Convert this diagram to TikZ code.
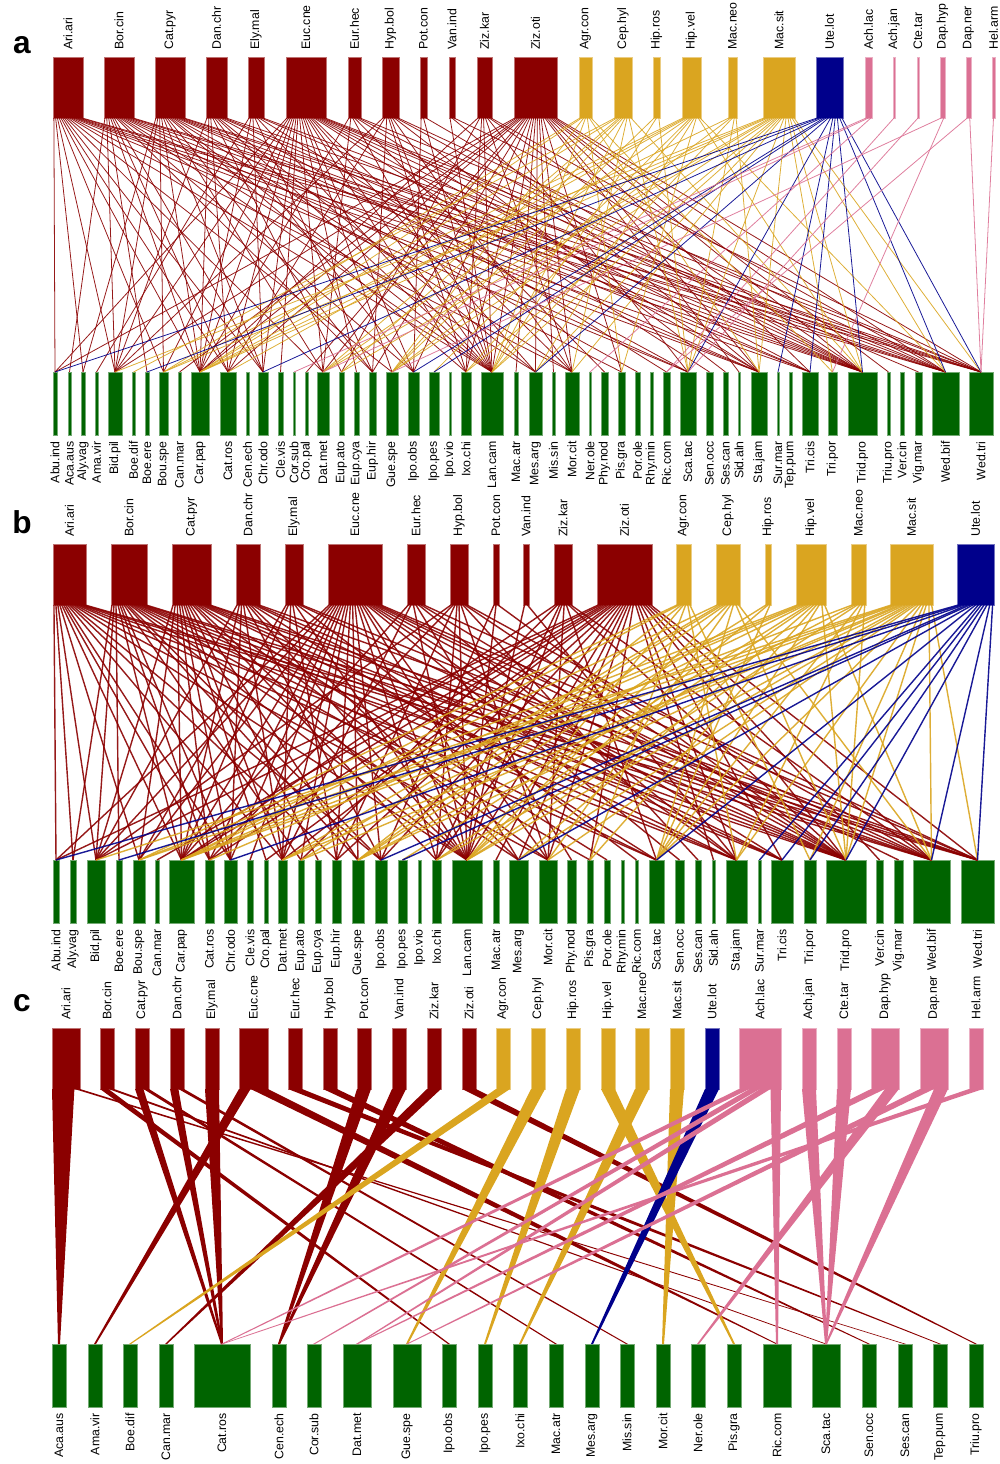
\documentclass[tikz,border=0pt]{standalone}
\usepackage{fontspec}
\setmainfont{Liberation Sans}
\usetikzlibrary{calc}
\definecolor{plantgreen}{RGB}{0,100,0}
\definecolor{bugred}{RGB}{139,0,0}
\definecolor{buggold}{RGB}{218,165,32}
\definecolor{bugblue}{RGB}{0,0,139}
\definecolor{bugpink}{RGB}{219,112,147}

% thin links from one upper bar, spread along its lower side
\newcommand{\fanout}[5]{%
  \foreach \b [count=\cnt] in {#4} {\xdef\nedges{\cnt}}
  \foreach \b [count=\k] in {#4} {
    \pgfmathsetmacro{\frc}{(\k-0.5)/\nedges}
    \draw[#3, line width=#5, draw opacity=0.9] ($(#1t#2.south west)!\frc!(#1t#2.south east)$) -- (#1b\b.north);
  }}
% tapered band for panel c
\newcommand{\flowband}[5]{%
  \fill[#5] ($(ct#1.south west)!#2!(ct#1.south east)$) -- ($(ct#1.south west)!#3!(ct#1.south east)$)
    -- ($(cb#4.north)+(1,0)$) -- ($(cb#4.north)+(-1,0)$) -- cycle;}

\begin{document}
\begin{tikzpicture}[x=0.02cm, y=-0.02cm,
  topbar/.style={inner sep=0pt, outer sep=0pt, anchor=north west, minimum height=1.22cm, fill=#1, draw=#1!55!white, line width=0.3pt},
  lowbar/.style={inner sep=0pt, outer sep=0pt, anchor=north west, minimum height=1.26cm, fill=plantgreen, draw=plantgreen!55!white, line width=0.3pt},
  toplab/.style={rotate=90, anchor=west, inner sep=0pt, font=\fontsize{7}{8}\selectfont},
  lowlab/.style={rotate=90, anchor=east, inner sep=0pt, font=\fontsize{7}{8}\selectfont},
  panel/.style={font=\fontsize{18}{18}\selectfont\bfseries}
]
\useasboundingbox (0,0) rectangle (1000,1464);

%% panel a
\node[panel] (labela) at (22,45) {a};
\foreach \l/\r/\lab/\col [count=\i] in {53/83/Ari.ari/bugred, 104/134/Bor.cin/bugred, 155/185/Cat.pyr/bugred, 206/227/Dan.chr/bugred, 248/264/Ely.mal/bugred, 286/326/Euc.cne/bugred, 348/361/Eur.hec/bugred, 382/399/Hyp.bol/bugred, 420/427/Pot.con/bugred, 449/455/Van.ind/bugred, 477/492/Ziz.kar/bugred, 514/557/Ziz.oti/bugred, 579/592/Agr.con/buggold, 614/632/Cep.hyl/buggold, 653/660/Hip.ros/buggold, 682/701/Hip.vel/buggold, 728/737/Mac.neo/buggold, 763/795/Mac.sit/buggold, 816/843/Ute.lot/bugblue, 865/872/Ach.lac/bugpink, 893/895/Ach.jan/bugpink, 917/919/Cte.tar/bugpink, 940/945/Dap.hyp/bugpink, 966/971/Dap.ner/bugpink, 992/995/Hel.arm/bugpink} {
  \node[topbar=\col, minimum width={(\r-\l)*0.02cm}] (at\i) at (\l,57) {};
  \node[toplab] (atl\i) at ($(at\i.north)+(0,-7)$) {\lab};
}
\foreach \l/\r/\lab [count=\i] in {53/57/Abu.ind, 68/71/Aca.aus, 81/85/Aly.vag, 95/98/Ama.vir, 108/122/Bid.pil, 132/135/Boe.dif, 145/149/Boe.ere, 159/168/Bou.spe, 178/181/Can.mar, 191/209/Car.pap, 220/236/Cat.ros, 246/249/Cen.ech, 258/268/Chr.odo, 278/283/Cle.vis, 293/295/Cor.sub, 305/308/Cro.pal, 317/329/Dat.met, 339/344/Eup.ato, 354/359/Eup.cya, 369/376/Eup.hir, 386/398/Gue.spe, 408/419/Ipo.obs, 429/439/Ipo.pes, 449/451/Ipo.vio, 461/471/Ixo.chi, 481/503/Lan.cam, 514/518/Mac.atr, 529/542/Mes.arg, 552/555/Mis.sin, 565/579/Mor.cit, 589/591/Ner.ole, 601/608/Phy.nod, 618/625/Pis.gra, 635/640/Por.ole, 650/653/Rhy.min, 663/670/Ric.com, 680/696/Sca.tac, 706/713/Sen.occ, 723/728/Ses.can, 738/740/Sid.aln, 751/767/Sta.jam, 777/779/Sur.mar, 789/792/Tep.pum, 802/818/Tri.cis, 828/837/Tri.por, 848/877/Trid.pro, 887/890/Triu.pro, 900/904/Ver.cin, 915/922/Vig.mar, 932/959/Wed.bif, 969/993/Wed.tri} {
  \node[lowbar, minimum width={(\r-\l)*0.02cm}] (ab\i) at (\l,372) {};
  \node[lowlab] (abl\i) at ($(ab\i.south)+(0,6)$) {\lab};
}
\fanout{a}{1}{bugred}{1,3,5,8,10,11,13,17,21,26,30,37,41,44,46,50,51}{0.45pt}
\fanout{a}{2}{bugred}{2,5,7,10,11,13,20,22,26,28,33,37,41,46,50,51}{0.45pt}
\fanout{a}{3}{bugred}{3,5,8,10,13,17,20,25,26,30,34,41,44,46,50,51}{0.45pt}
\fanout{a}{4}{bugred}{5,10,11,18,22,26,28,37,44,46,51}{0.45pt}
\fanout{a}{5}{bugred}{4,10,13,20,26,36,46,50}{0.45pt}
\fanout{a}{6}{bugred}{1,5,8,10,11,13,14,17,19,21,22,25,26,28,30,38,41,44,46,49,50,51}{0.45pt}
\fanout{a}{7}{bugred}{10,17,26,32,41,46,51}{0.45pt}
\fanout{a}{8}{bugred}{5,11,20,25,26,30,39,46,50}{0.45pt}
\fanout{a}{9}{bugred}{22,26,46}{0.45pt}
\fanout{a}{10}{bugred}{26,41,51}{0.45pt}
\fanout{a}{11}{bugred}{10,18,25,26,30,37,46,50}{0.45pt}
\fanout{a}{12}{bugred}{1,5,9,10,11,16,17,20,22,25,26,27,28,29,30,33,40,41,44,46,47,50,51}{0.45pt}
\fanout{a}{13}{buggold}{8,10,21,26,33,41,45}{0.45pt}
\fanout{a}{14}{buggold}{6,10,17,18,21,26,30,37,46}{0.45pt}
\fanout{a}{15}{buggold}{21,26,37}{0.45pt}
\fanout{a}{16}{buggold}{8,10,11,17,23,25,28,33,46,50}{0.45pt}
\fanout{a}{17}{buggold}{10,21,26,37,41}{0.45pt}
\fanout{a}{18}{buggold}{5,8,10,17,18,21,25,26,28,30,37,41,45,46,50,51}{0.45pt}
\fanout{a}{19}{bugblue}{1,7,13,22,23,28,37,42,44,46,50,51}{0.45pt}
\fanout{a}{20}{bugpink}{15,17,31}{0.45pt}
\fanout{a}{21}{bugpink}{36}{0.45pt}
\fanout{a}{22}{bugpink}{37}{0.45pt}
\fanout{a}{23}{bugpink}{21,45}{0.45pt}
\fanout{a}{24}{bugpink}{36,51}{0.45pt}
\fanout{a}{25}{bugpink}{51}{0.45pt}

%% panel b
\node[panel] (labelb) at (22,522) {b};
\foreach \l/\r/\lab/\col [count=\i] in {53/86/Ari.ari/bugred, 111/147/Bor.cin/bugred, 172/211/Cat.pyr/bugred, 236/260/Dan.chr/bugred, 285/303/Ely.mal/bugred, 328/382/Euc.cne/bugred, 407/425/Eur.hec/bugred, 450/468/Hyp.bol/bugred, 493/499/Pot.con/bugred, 523/529/Van.ind/bugred, 554/572/Ziz.kar/bugred, 597/652/Ziz.oti/bugred, 676/691/Agr.con/buggold, 716/740/Cep.hyl/buggold, 765/771/Hip.ros/buggold, 796/826/Hip.vel/buggold, 851/866/Mac.neo/buggold, 890/933/Mac.sit/buggold, 957/994/Ute.lot/bugblue} {
  \node[topbar=\col, minimum width={(\r-\l)*0.02cm}] (bt\i) at (\l,544) {};
  \node[toplab] (btl\i) at ($(bt\i.north)+(0,-7)$) {\lab};
}
\foreach \l/\r/\lab [count=\i] in {53/59/Abu.ind, 70/76/Aly.vag, 87/105/Bid.pil, 116/122/Boe.ere, 133/145/Bou.spe, 155/159/Can.mar, 169/194/Car.pap, 205/214/Cat.ros, 224/237/Chr.odo, 247/253/Cle.vis, 264/268/Cro.pal, 278/287/Dat.met, 298/304/Eup.ato, 315/321/Eup.cya, 332/341/Eup.hir, 352/364/Gue.spe, 375/387/Ipo.obs, 398/407/Ipo.pes, 418/421/Ipo.vio, 432/441/Ixo.chi, 452/482/Lan.cam, 493/499/Mac.atr, 509/528/Mes.arg, 539/557/Mor.cit, 567/576/Phy.nod, 587/593/Pis.gra, 604/610/Por.ole, 621/624/Rhy.min, 635/638/Ric.com, 649/664/Sca.tac, 675/684/Sen.occ, 695/701/Ses.can, 712/715/Sid.aln, 726/747/Sta.jam, 758/761/Sur.mar, 771/793/Tri.cis, 804/816/Tri.por, 826/866/Trid.pro, 876/883/Ver.cin, 894/903/Vig.mar, 913/950/Wed.bif, 961/994/Wed.tri} {
  \node[lowbar, minimum width={(\r-\l)*0.02cm}] (bb\i) at (\l,860) {};
  \node[lowlab] (bbl\i) at ($(bb\i.south)+(0,6)$) {\lab};
}
\fanout{b}{1}{bugred}{1,2,3,5,7,8,9,12,15,17,21,24,30,34,38,41,42}{0.8pt}
\fanout{b}{2}{bugred}{2,3,4,7,8,9,13,16,17,21,23,26,30,34,36,38,41,42}{0.8pt}
\fanout{b}{3}{bugred}{3,5,7,8,9,11,12,14,16,20,21,24,27,34,36,38,41,42}{0.8pt}
\fanout{b}{4}{bugred}{3,7,9,12,17,21,23,30,36,38,42}{0.8pt}
\fanout{b}{5}{bugred}{5,7,12,15,21,29,38,41}{0.8pt}
\fanout{b}{6}{bugred}{1,3,5,7,8,9,10,12,13,15,16,17,20,21,23,24,31,34,36,38,40,41,42}{0.8pt}
\fanout{b}{7}{bugred}{7,12,21,25,34,38,42}{0.8pt}
\fanout{b}{8}{bugred}{3,8,15,20,21,24,32,38,41}{0.8pt}
\fanout{b}{9}{bugred}{17,21,38}{0.8pt}
\fanout{b}{10}{bugred}{21,34}{0.8pt}
\fanout{b}{11}{bugred}{7,13,20,21,24,30,38,41}{0.8pt}
\fanout{b}{12}{bugred}{1,3,6,7,8,11,12,15,17,20,21,22,23,24,26,33,34,36,38,39,41,42}{0.8pt}
\fanout{b}{13}{buggold}{5,7,16,21,26,34,37}{0.8pt}
\fanout{b}{14}{buggold}{7,12,13,16,21,24,30,38,41}{0.8pt}
\fanout{b}{15}{buggold}{16,21,30}{0.8pt}
\fanout{b}{16}{buggold}{5,7,8,12,18,20,23,26,30,38,41}{0.8pt}
\fanout{b}{17}{buggold}{7,16,21,30,34,38}{0.8pt}
\fanout{b}{18}{buggold}{3,5,7,12,13,16,20,21,23,24,30,34,37,38,41,42}{0.8pt}
\fanout{b}{19}{bugblue}{1,4,9,17,18,23,30,35,36,37,38,41,42}{0.8pt}

%% panel c
\node[panel] (labelc) at (22,1003) {c};
\foreach \l/\r/\lab/\col [count=\i] in {52/80/Ari.ari/bugred, 100/114/Bor.cin/bugred, 135/149/Cat.pyr/bugred, 170/184/Dan.chr/bugred, 205/219/Ely.mal/bugred, 239/268/Euc.cne/bugred, 288/302/Eur.hec/bugred, 323/337/Hyp.bol/bugred, 357/371/Pot.con/bugred, 392/406/Van.ind/bugred, 427/441/Ziz.kar/bugred, 462/476/Ziz.oti/bugred, 496/510/Agr.con/buggold, 531/545/Cep.hyl/buggold, 566/580/Hip.ros/buggold, 601/615/Hip.vel/buggold, 635/649/Mac.neo/buggold, 670/684/Mac.sit/buggold, 705/719/Ute.lot/bugblue, 739/781/Ach.lac/bugpink, 802/816/Ach.jan/bugpink, 837/851/Cte.tar/bugpink, 871/899/Dap.hyp/bugpink, 920/948/Dap.ner/bugpink, 969/983/Hel.arm/bugpink} {
  \node[topbar=\col, minimum width={(\r-\l)*0.02cm}] (ct\i) at (\l,1028) {};
  \node[toplab] (ctl\i) at ($(ct\i.north)+(0,-8)$) {\lab};
}
\foreach \l/\r/\lab [count=\i] in {52/66/Aca.aus, 88/102/Ama.vir, 123/137/Boe.dif, 159/173/Can.mar, 194/250/Cat.ros, 272/286/Cen.ech, 307/321/Cor.sub, 343/371/Dat.met, 393/421/Gue.spe, 442/456/Ipo.obs, 478/492/Ipo.pes, 513/527/Ixo.chi, 549/563/Mac.atr, 585/599/Mes.arg, 620/634/Mis.sin, 656/670/Mor.cit, 691/705/Ner.ole, 727/741/Pis.gra, 763/791/Ric.com, 812/840/Sca.tac, 862/876/Sen.occ, 898/912/Ses.can, 933/947/Tep.pum, 969/983/Triu.pro} {
  \node[lowbar, minimum width={(\r-\l)*0.02cm}] (cb\i) at (\l,1344) {};
  \node[lowlab] (cbl\i) at ($(cb\i.south)+(0,6)$) {\lab};
}
\flowband{1}{0}{0.8}{1}{bugred}
\flowband{1}{0.8}{1}{22}{bugred}
\flowband{2}{0}{0.6}{10}{bugred}
\flowband{2}{0.6}{1}{20}{bugred}
\flowband{3}{0}{0.6}{5}{bugred}
\flowband{3}{0.6}{1}{13}{bugred}
\flowband{4}{0}{0.6}{5}{bugred}
\flowband{4}{0.6}{1}{15}{bugred}
\flowband{5}{0}{1}{5}{bugred}
\flowband{6}{0}{0.4}{2}{bugred}
\flowband{6}{0.4}{1}{19}{bugred}
\flowband{7}{0}{1}{23}{bugred}
\flowband{8}{0}{1}{21}{bugred}
\flowband{9}{0}{1}{6}{bugred}
\flowband{10}{0}{1}{6}{bugred}
\flowband{11}{0}{1}{4}{bugred}
\flowband{12}{0}{1}{24}{bugred}
\flowband{13}{0}{1}{3}{buggold}
\flowband{14}{0}{1}{9}{buggold}
\flowband{15}{0}{1}{11}{buggold}
\flowband{16}{0}{1}{18}{buggold}
\flowband{17}{0}{1}{12}{buggold}
\flowband{18}{0}{1}{16}{buggold}
\flowband{19}{0}{1}{14}{bugblue}
\flowband{20}{0}{0.25}{5}{bugpink}
\flowband{20}{0.25}{0.5}{7}{bugpink}
\flowband{20}{0.5}{0.75}{8}{bugpink}
\flowband{20}{0.75}{1}{19}{bugpink}
\flowband{21}{0}{1}{20}{bugpink}
\flowband{22}{0}{1}{20}{bugpink}
\flowband{23}{0}{0.5}{8}{bugpink}
\flowband{23}{0.5}{1}{17}{bugpink}
\flowband{24}{0}{0.5}{9}{bugpink}
\flowband{24}{0.5}{1}{20}{bugpink}
\flowband{25}{0}{1}{5}{bugpink}
\end{tikzpicture}
\end{document}
